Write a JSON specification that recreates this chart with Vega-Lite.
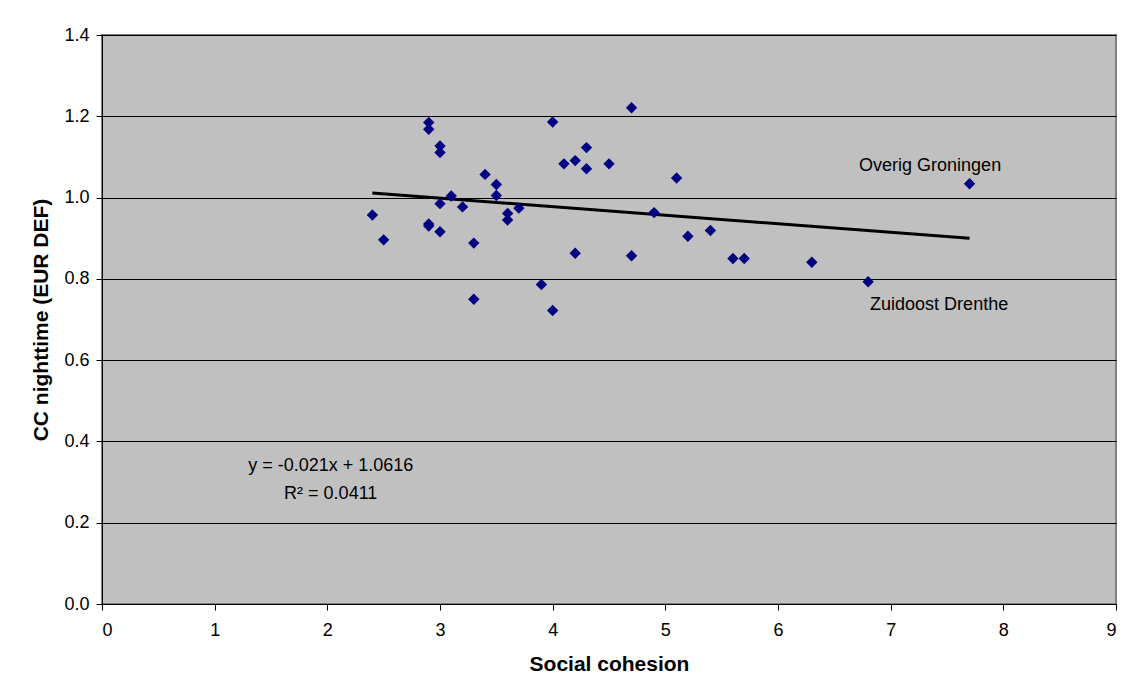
{
  "$schema": "https://vega.github.io/schema/vega-lite/v6.json",
  "autosize": "none",
  "width": 1014,
  "height": 569,
  "padding": {"left": 102, "top": 35, "right": 11, "bottom": 88},
  "background": "white",
  "config": {
    "font": "Liberation Sans",
    "view": {"fill": "#C0C0C0", "stroke": "#808080", "strokeWidth": 2},
    "axis": {"labelFont": "Liberation Sans", "titleFont": "Liberation Sans", "labelColor": "black", "titleColor": "black", "domainColor": "black", "tickColor": "black"}
  },
  "datasets": {
    "pts": [
      {"sc": 2.4, "cc": 0.957},
      {"sc": 2.5, "cc": 0.896},
      {"sc": 2.9, "cc": 1.185},
      {"sc": 2.9, "cc": 1.168},
      {"sc": 2.9, "cc": 0.935},
      {"sc": 2.9, "cc": 0.930},
      {"sc": 3.0, "cc": 1.127},
      {"sc": 3.0, "cc": 1.111},
      {"sc": 3.0, "cc": 0.985},
      {"sc": 3.0, "cc": 0.916},
      {"sc": 3.1, "cc": 1.004},
      {"sc": 3.2, "cc": 0.977},
      {"sc": 3.3, "cc": 0.888},
      {"sc": 3.3, "cc": 0.750},
      {"sc": 3.4, "cc": 1.057},
      {"sc": 3.5, "cc": 1.032},
      {"sc": 3.5, "cc": 1.005},
      {"sc": 3.6, "cc": 0.961},
      {"sc": 3.6, "cc": 0.945},
      {"sc": 3.7, "cc": 0.974},
      {"sc": 3.9, "cc": 0.786},
      {"sc": 4.0, "cc": 1.186},
      {"sc": 4.0, "cc": 0.722},
      {"sc": 4.1, "cc": 1.083},
      {"sc": 4.2, "cc": 1.091},
      {"sc": 4.2, "cc": 0.863},
      {"sc": 4.3, "cc": 1.123},
      {"sc": 4.3, "cc": 1.071},
      {"sc": 4.5, "cc": 1.083},
      {"sc": 4.7, "cc": 1.221},
      {"sc": 4.7, "cc": 0.857},
      {"sc": 4.9, "cc": 0.963},
      {"sc": 5.1, "cc": 1.048},
      {"sc": 5.2, "cc": 0.905},
      {"sc": 5.4, "cc": 0.919},
      {"sc": 5.6, "cc": 0.850},
      {"sc": 5.7, "cc": 0.850},
      {"sc": 6.3, "cc": 0.841},
      {"sc": 6.8, "cc": 0.793},
      {"sc": 7.7, "cc": 1.034}
    ],
    "trend": [
      {"sc": 2.4, "cc": 1.0112},
      {"sc": 7.7, "cc": 0.9001}
    ],
    "one": [{}]
  },
  "layer": [
    {
      "data": {"name": "trend"},
      "mark": {"type": "line", "color": "black", "strokeWidth": 3},
      "encoding": {
        "x": {"field": "sc", "type": "quantitative", "scale": {"domain": [0, 9], "nice": false},
          "axis": {"title": "Social cohesion", "titleFontSize": 21, "titleFontWeight": "bold", "titlePadding": 14, "labelFontSize": 18, "labelPadding": 11, "values": [0,1,2,3,4,5,6,7,8,9], "tickSize": 6, "grid": false, "format": "d"}},
        "y": {"field": "cc", "type": "quantitative", "scale": {"domain": [0, 1.4], "nice": false},
          "axis": {"title": "CC nighttime (EUR DEF)", "titleFontSize": 21, "titleFontWeight": "bold", "titlePadding": 12, "labelFontSize": 18, "labelPadding": 7, "values": [0,0.2,0.4,0.6,0.8,1.0,1.2,1.4], "format": ".1f", "tickSize": 6, "grid": true, "gridColor": "black", "gridWidth": 1, "gridOpacity": 1}}
      }
    },
    {
      "data": {"name": "pts"},
      "mark": {"type": "point", "shape": "diamond", "filled": true, "color": "#000080", "opacity": 1, "size": 130},
      "encoding": {
        "x": {"field": "sc", "type": "quantitative"},
        "y": {"field": "cc", "type": "quantitative"}
      }
    },
    {
      "data": {"name": "one"},
      "mark": {"type": "text", "font": "Liberation Sans", "fontSize": 18, "color": "black", "align": "center", "baseline": "middle", "text": "Overig Groningen"},
      "encoding": {"x": {"datum": 7.35}, "y": {"datum": 1.077}}
    },
    {
      "data": {"name": "one"},
      "mark": {"type": "text", "font": "Liberation Sans", "fontSize": 18, "color": "black", "align": "center", "baseline": "middle", "text": "Zuidoost Drenthe"},
      "encoding": {"x": {"datum": 7.43}, "y": {"datum": 0.736}}
    },
    {
      "data": {"name": "one"},
      "mark": {"type": "text", "font": "Liberation Sans", "fontSize": 18, "color": "black", "align": "center", "baseline": "middle", "text": "y = -0.021x + 1.0616"},
      "encoding": {"x": {"datum": 2.03}, "y": {"datum": 0.339}}
    },
    {
      "data": {"name": "one"},
      "mark": {"type": "text", "font": "Liberation Sans", "fontSize": 18, "color": "black", "align": "center", "baseline": "middle", "text": "R² = 0.0411"},
      "encoding": {"x": {"datum": 2.03}, "y": {"datum": 0.271}}
    }
  ]
}
